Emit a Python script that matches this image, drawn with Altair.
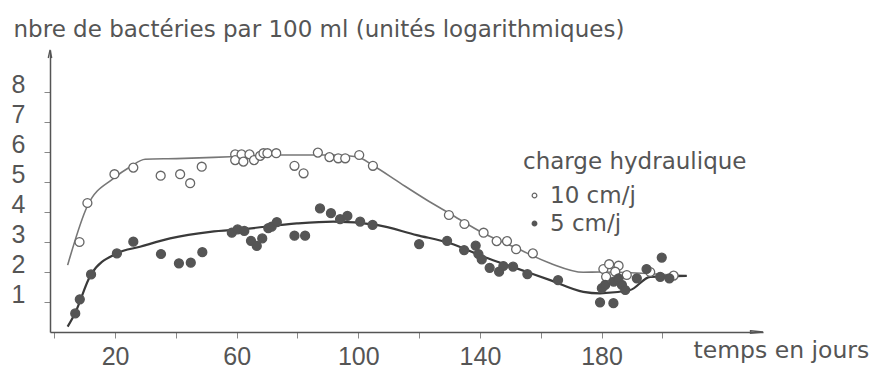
import altair as alt
import pandas as pd

# ---------------- data ----------------
series_names = ["10 cm/j", "5 cm/j"]

# open circles : charge hydraulique 10 cm/j
open_day = [8.3, 10.9, 19.8, 26.0, 35.0, 41.4, 44.7, 48.5,
            59.5, 59.5, 61.6, 62.2, 64.2, 65.7, 67.7, 68.8, 70.1, 73.0,
            79.0, 82.0, 86.7, 90.5, 93.4, 95.7, 100.3, 104.8,
            129.8, 134.9, 141.2, 145.5, 148.9, 151.9, 157.4,
            180.6, 182.5, 185.6, 181.5, 184.5, 188.3, 196.0, 203.7]
open_val = [3.0, 4.3, 5.26, 5.48, 5.21, 5.26, 4.96, 5.51,
            5.92, 5.73, 5.92, 5.68, 5.92, 5.73, 5.87, 5.96, 5.96, 5.96,
            5.54, 5.29, 5.98, 5.83, 5.79, 5.79, 5.9, 5.54,
            3.9, 3.6, 3.31, 3.03, 3.03, 2.76, 2.62,
            2.10, 2.26, 2.21, 1.84, 2.01, 1.90, 2.00, 1.88]

# filled dots : charge hydraulique 5 cm/j
fill_day = [6.9, 8.4, 12.1, 20.6, 26.0, 35.1, 41.0, 44.9, 48.7,
            58.4, 60.3, 62.5, 64.7, 66.6, 68.4, 70.4, 71.5, 73.2,
            79.0, 82.5, 87.4, 91.0, 94.0, 96.4, 100.6, 104.7,
            120.0, 129.2, 134.8, 138.6, 139.5, 140.6, 143.2, 146.3, 147.7, 150.9, 155.6, 165.7,
            179.5, 183.9, 180.1, 181.2, 184.0, 185.6, 186.7, 187.8, 191.6, 194.8, 199.8, 199.3, 202.3]
fill_val = [0.62, 1.09, 1.92, 2.62, 3.01, 2.6, 2.29, 2.31, 2.66,
            3.31, 3.42, 3.37, 3.04, 2.87, 3.12, 3.46, 3.51, 3.66,
            3.21, 3.21, 4.12, 3.96, 3.76, 3.87, 3.68, 3.57,
            2.93, 3.04, 2.73, 2.88, 2.6, 2.42, 2.14, 2.01, 2.2, 2.18, 1.93, 1.73,
            0.99, 0.96, 1.46, 1.57, 1.68, 1.79, 1.57, 1.40, 1.79, 2.10, 2.48, 1.84, 1.79]

# hand-drawn fitted curves
curve10_day = [4.4, 10.9, 19.5, 25.0, 29.9, 40.3, 57.8, 74.3, 80.9, 91.8, 99.5, 105.0,
               113.8, 122.5, 129.9, 141.2, 152.1, 163.1, 174.0, 179.5, 208.0]
curve10_val = [2.23, 4.2, 5.12, 5.51, 5.76, 5.78, 5.84, 5.9, 5.9, 5.9, 5.84, 5.54,
               4.96, 4.4, 3.96, 3.29, 2.79, 2.29, 1.99, 2.0, 1.87]

curve5_day = [4.4, 6.8, 12.1, 20.6, 28.2, 38.1, 51.3, 62.2, 79.8, 91.8, 106.0,
              119.2, 130.2, 141.2, 152.1, 163.1, 174.0, 179.5, 189.4, 196.0, 208.0]
curve5_val = [0.18, 0.62, 1.92, 2.62, 2.84, 3.12, 3.34, 3.43, 3.62, 3.68, 3.57,
              3.23, 2.96, 2.51, 2.12, 1.73, 1.34, 1.29, 1.4, 1.84, 1.87]

x_tick_values = [0, 20, 40, 60, 80, 100, 120, 140, 160, 180, 200]
y_tick_values = [1, 2, 3, 4, 5, 6, 7, 8]

X_DOMAIN = [-1.4, 233.1]
Y_DOMAIN = [0, 9.4]

# ---------------- tables ----------------
pts = pd.DataFrame({
    "jour": open_day + fill_day,
    "val": open_val + fill_val,
    "charge": [series_names[0]] * len(open_day) + [series_names[1]] * len(fill_day),
})
curves = pd.DataFrame({
    "jour": curve10_day + curve5_day,
    "val": curve10_val + curve5_val,
    "charge": [series_names[0]] * len(curve10_day) + [series_names[1]] * len(curve5_day),
})
x_arrow = pd.DataFrame({"jour": [X_DOMAIN[1]], "val": [Y_DOMAIN[0]]})
y_arrow = pd.DataFrame({"jour": [X_DOMAIN[0]], "val": [Y_DOMAIN[1]]})

TXT = "#555555"
TITLE_FONT = "DejaVu Sans"
NUM_FONT = "Liberation Sans"

x_enc = alt.X(
    "jour:Q",
    scale=alt.Scale(domain=X_DOMAIN, nice=False, zero=False),
    axis=alt.Axis(
        values=x_tick_values,
        labelExpr="datum.value % 40 == 20 ? datum.label : ''",
        labelFont=NUM_FONT, labelFontSize=25, labelColor=TXT,
        labelBaseline="alphabetic", labelPadding=26, labelOverlap=False,
        tickSize=6, tickColor="#888888", domainColor="#555555", domainWidth=1.5,
        grid=False,
        title="temps en jours", titleFont=TITLE_FONT, titleFontSize=23.5,
        titleFontWeight="normal", titleColor=TXT, titleAlign="left",
        titleBaseline="alphabetic", titleX=643, titleY=25, titleAngle=0,
    ),
)
y_enc = alt.Y(
    "val:Q",
    scale=alt.Scale(domain=Y_DOMAIN, nice=False, zero=False),
    axis=alt.Axis(
        values=y_tick_values,
        labelFont=NUM_FONT, labelFontSize=25, labelColor=TXT,
        labelBaseline="alphabetic", labelPadding=19, labelOverlap=False,
        tickSize=6, tickColor="#888888", domainColor="#555555", domainWidth=1.5,
        grid=False,
        title="nbre de bactéries par 100 ml (unités logarithmiques)",
        titleFont=TITLE_FONT, titleFontSize=23, titleFontWeight="normal",
        titleColor=TXT, titleAngle=0, titleAlign="left", titleBaseline="alphabetic",
        titleX=-37, titleY=-14, titleLimit=0,
    ),
)

line10 = alt.Chart(curves).transform_filter(
    alt.datum.charge == series_names[0]
).mark_line(interpolate="monotone", color="#777777", strokeWidth=1.6).encode(
    x=x_enc, y=y_enc, order="jour:Q"
)
line5 = alt.Chart(curves).transform_filter(
    alt.datum.charge == series_names[1]
).mark_line(interpolate="monotone", color="#3a3a3a", strokeWidth=2.2).encode(
    x=x_enc, y=y_enc, order="jour:Q"
)

legend = alt.Legend(
    title="charge hydraulique", orient="none", legendX=473, legendY=101,
    titleFont=TITLE_FONT, titleFontSize=23, titleFontWeight="normal", titleColor=TXT,
    titlePadding=10, padding=0, titleLimit=0, labelLimit=0,
    labelFont=TITLE_FONT, labelFontSize=23, labelColor=TXT, labelOffset=4,
    labelExpr="datum.value == '5 cm/j' ? '\u00a0\u00a0' + datum.label : datum.label",
    symbolSize=22, symbolStrokeWidth=1.2, rowPadding=4, symbolType="circle",
)

points = alt.Chart(pts).mark_point(filled=True, size=80, strokeWidth=1.3, opacity=1).encode(
    x=x_enc, y=y_enc,
    fill=alt.Fill("charge:N", scale=alt.Scale(domain=series_names, range=["white", "#555555"]), legend=legend),
    stroke=alt.Stroke("charge:N", scale=alt.Scale(domain=series_names, range=["#666666", "#555555"]), legend=legend),
)

xa = alt.Chart(x_arrow).mark_point(
    shape="M -2 -0.2 L 0 0 L -2 0.2 Z", size=156, filled=False,
    stroke="#555555", strokeWidth=1.3, opacity=1
).encode(x=x_enc, y=y_enc)
ya = alt.Chart(y_arrow).mark_point(
    shape="M -0.35 1.6 L 0 0 L 0.35 1.6", size=100, filled=False,
    stroke="#555555", strokeWidth=1.3, opacity=1
).encode(x=x_enc, y=y_enc)

chart = alt.layer(line10, line5, points, xa, ya).properties(
    width=713, height=282,
    autosize=alt.AutoSizeParams(type="none"),
    padding={"left": 50, "top": 50, "right": 124, "bottom": 39},
    background="white",
).configure_view(stroke=None)

chart.save("out.html", embed_options={"renderer": "svg", "actions": False})
